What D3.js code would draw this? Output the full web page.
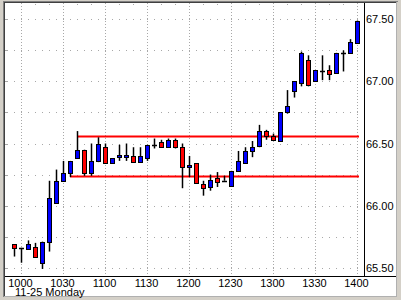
<!DOCTYPE html>
<html>
<head>
<meta charset="utf-8">
<script src="https://cdn.jsdelivr.net/npm/d3@7"></script>
<style>
  body { margin: 0; background: #fff; }
  svg { display: block; font-family: "Liberation Sans", Arial, sans-serif; font-size: 11px; }
</style>
</head>
<body>
<div id="chart"></div>
<script>
// 5 minute bars, 11-25
const times = ["0955","1000","1005","1010","1015","1020","1025","1030","1035","1040",
  "1045","1050","1055","1100","1105","1110","1115","1120","1125","1130",
  "1135","1140","1145","1150","1155","1200","1205","1210","1215","1220",
  "1225","1230","1235","1240","1245","1250","1255","1300","1305","1310",
  "1315","1320","1325","1330","1335","1340","1345","1350","1355","1400"];
const opens = [65.69,65.66,65.65,65.67,65.54,65.71,66.02,66.20,66.26,66.38,
  66.45,66.26,66.36,66.47,66.34,66.39,66.39,66.40,66.35,66.38,
  66.49,66.51,66.47,66.53,66.47,66.31,66.34,66.17,66.15,66.22,
  66.20,66.16,66.28,66.34,66.44,66.48,66.60,66.56,66.52,66.75,
  66.92,66.99,67.17,67.00,67.08,67.09,67.07,67.23,67.23,67.31];
const highs = [65.69,65.66,65.72,65.70,65.71,66.20,66.29,66.36,66.36,66.60,
  66.45,66.50,66.55,66.50,66.38,66.49,66.50,66.47,66.47,66.49,
  66.54,66.53,66.54,66.54,66.50,66.40,66.34,66.20,66.25,66.27,
  66.24,66.28,66.44,66.47,66.52,66.65,66.61,66.58,66.75,66.93,
  67.00,67.24,67.21,67.09,67.21,67.13,67.23,67.25,67.34,67.49];
const lows = [65.59,65.54,65.65,65.59,65.49,65.63,66.02,66.19,66.23,66.38,
  66.24,66.24,66.35,66.34,66.34,66.36,66.36,66.35,66.35,66.36,
  66.46,66.47,66.47,66.46,66.14,66.23,66.18,66.08,66.12,66.15,
  66.20,66.16,66.28,66.34,66.39,66.47,66.53,66.52,66.52,66.74,
  66.87,66.96,66.96,67.00,67.01,67.01,67.07,67.08,67.23,67.31];
const closes = [65.66,65.66,65.69,65.59,65.71,66.06,66.20,66.26,66.36,66.45,
  66.26,66.36,66.50,66.34,66.38,66.41,66.41,66.35,66.40,66.49,
  66.49,66.47,66.53,66.47,66.31,66.33,66.18,66.14,66.21,66.19,
  66.20,66.28,66.36,66.44,66.47,66.60,66.56,66.53,66.75,66.80,
  67.00,67.23,66.97,67.09,67.08,67.06,67.23,67.23,67.32,67.49];

const yTicks = [65.5, 66.0, 66.5, 67.0, 67.5];
const gridLevels = [65.5, 65.75, 66.0, 66.25, 66.5, 66.75, 67.0, 67.25, 67.5];
const xTickLabels = ["1000","1030","1100","1130","1200","1230","1300","1330","1400"];
const dateLabel = "11-25 Monday";

// horizontal level lines
const levelPrices = [66.56, 66.24];
const levelStarts = ["1040", "1035"];
const levelEnd = "1400";

const W = 401, H = 300;
const parseTime = d3.timeParse("%H%M");

const svg = d3.select("#chart")
  .append("svg")
  .attr("width", W)
  .attr("height", H);

const x = d3.scaleTime()
  .domain([parseTime(times[0]), parseTime(times[times.length - 1])])
  .range([14, 357]);

const y = d3.scaleLinear()
  .domain([65.5, 67.5])
  .range([267.7, 19.3]);

const px = v => Math.round(v) + 0.5;

// frame
svg.append("rect").attr("width", W).attr("height", H).attr("fill", "#d4d0c8");
svg.append("rect").attr("x", 5).attr("y", 3).attr("width", 391).attr("height", 293).attr("fill", "#fff");
svg.append("line").attr("x1", 3.5).attr("x2", 3.5).attr("y1", 1).attr("y2", 297).attr("stroke", "#808080");
svg.append("line").attr("x1", 4.5).attr("x2", 4.5).attr("y1", 2).attr("y2", 296).attr("stroke", "#404040");
svg.append("line").attr("x1", 3).attr("x2", 398).attr("y1", 1.5).attr("y2", 1.5).attr("stroke", "#808080");
svg.append("line").attr("x1", 4).attr("x2", 397).attr("y1", 2.5).attr("y2", 2.5).attr("stroke", "#404040");
svg.append("line").attr("x1", 396.5).attr("x2", 396.5).attr("y1", 2).attr("y2", 297).attr("stroke", "#b0b0b0");
svg.append("line").attr("x1", 4).attr("x2", 397).attr("y1", 296.5).attr("y2", 296.5).attr("stroke", "#b0b0b0");

// grid
const grid = svg.append("g").attr("stroke", "#a8a8a8");

grid.selectAll(".hgrid")
  .data(gridLevels)
  .enter()
  .append("line")
  .attr("x1", 7).attr("x2", 364)
  .attr("y1", d => px(y(d))).attr("y2", d => px(y(d)))
  .attr("stroke-dasharray", "1,6");

grid.selectAll(".htick")
  .data(gridLevels)
  .enter()
  .append("line")
  .attr("x1", 5).attr("x2", 7)
  .attr("y1", d => px(y(d))).attr("y2", d => px(y(d)));

grid.selectAll(".vgrid")
  .data(xTickLabels)
  .enter()
  .append("line")
  .attr("x1", d => px(x(parseTime(d)))).attr("x2", d => px(x(parseTime(d))))
  .attr("y1", 3).attr("y2", 276)
  .attr("stroke-dasharray", "1,2");

// small marks along the top every 10 minutes
const minor = x.ticks(d3.timeMinute.every(10))
  .filter(t => t.getMinutes() % 30 !== 0);
svg.selectAll(".minor")
  .data(minor)
  .enter()
  .append("rect")
  .attr("x", d => Math.round(x(d)))
  .attr("y", 4)
  .attr("width", 1).attr("height", 1)
  .attr("fill", "#a8a8a8");

// axes lines
svg.append("line").attr("x1", 364.5).attr("x2", 364.5).attr("y1", 3).attr("y2", 277).attr("stroke", "#000");
svg.append("line").attr("x1", 5).attr("x2", 396).attr("y1", 276.5).attr("y2", 276.5).attr("stroke", "#000");

// level lines
svg.selectAll(".level")
  .data(levelPrices)
  .enter()
  .append("line")
  .attr("x1", (d, i) => Math.round(x(parseTime(levelStarts[i]))))
  .attr("x2", x(parseTime(levelEnd)) + 2)
  .attr("y1", d => Math.round(y(d)) + 0.5)
  .attr("y2", d => Math.round(y(d)) + 0.5)
  .attr("stroke", "#ff0000")
  .attr("stroke-width", 2);

// candles
const bars = times.map((t, i) => ({
  t: parseTime(t), o: opens[i], h: highs[i], l: lows[i], c: closes[i]
}));

const candles = svg.selectAll(".candle")
  .data(bars)
  .enter()
  .append("g");

candles.append("line")
  .attr("x1", d => Math.round(x(d.t)) + 0.5)
  .attr("x2", d => Math.round(x(d.t)) + 0.5)
  .attr("y1", d => y(d.h))
  .attr("y2", d => y(d.l))
  .attr("stroke", "#000")
  .attr("stroke-width", 1.5);

candles.filter(d => d.o !== d.c)
  .append("rect")
  .attr("x", d => Math.round(x(d.t)) - 1.5)
  .attr("width", 4)
  .attr("y", d => px(y(Math.max(d.o, d.c))))
  .attr("height", d => Math.max(px(y(Math.min(d.o, d.c))) - px(y(Math.max(d.o, d.c))), 1))
  .attr("fill", d => d.c > d.o ? "#0000ff" : "#ff0000")
  .attr("stroke", "#000");

// doji bars as a flat line
candles.filter(d => d.o === d.c)
  .append("line")
  .attr("x1", d => Math.round(x(d.t)) - 2)
  .attr("x2", d => Math.round(x(d.t)) + 3)
  .attr("y1", d => px(y(d.c)))
  .attr("y2", d => px(y(d.c)))
  .attr("stroke", "#000")
  .attr("stroke-width", 1.5);

// labels
svg.selectAll(".ylabel")
  .data(yTicks)
  .enter()
  .append("text")
  .attr("x", 366)
  .attr("y", d => y(d) + 4)
  .text(d => d3.format(".2f")(d));

svg.selectAll(".xlabel")
  .data(xTickLabels)
  .enter()
  .append("text")
  .attr("x", d => x(parseTime(d)) - 0.5)
  .attr("y", 287)
  .attr("text-anchor", "middle")
  .text(d => d);

svg.append("text")
  .attr("x", 15)
  .attr("y", 295.5)
  .text(dateLabel);
</script>
</body>
</html>
